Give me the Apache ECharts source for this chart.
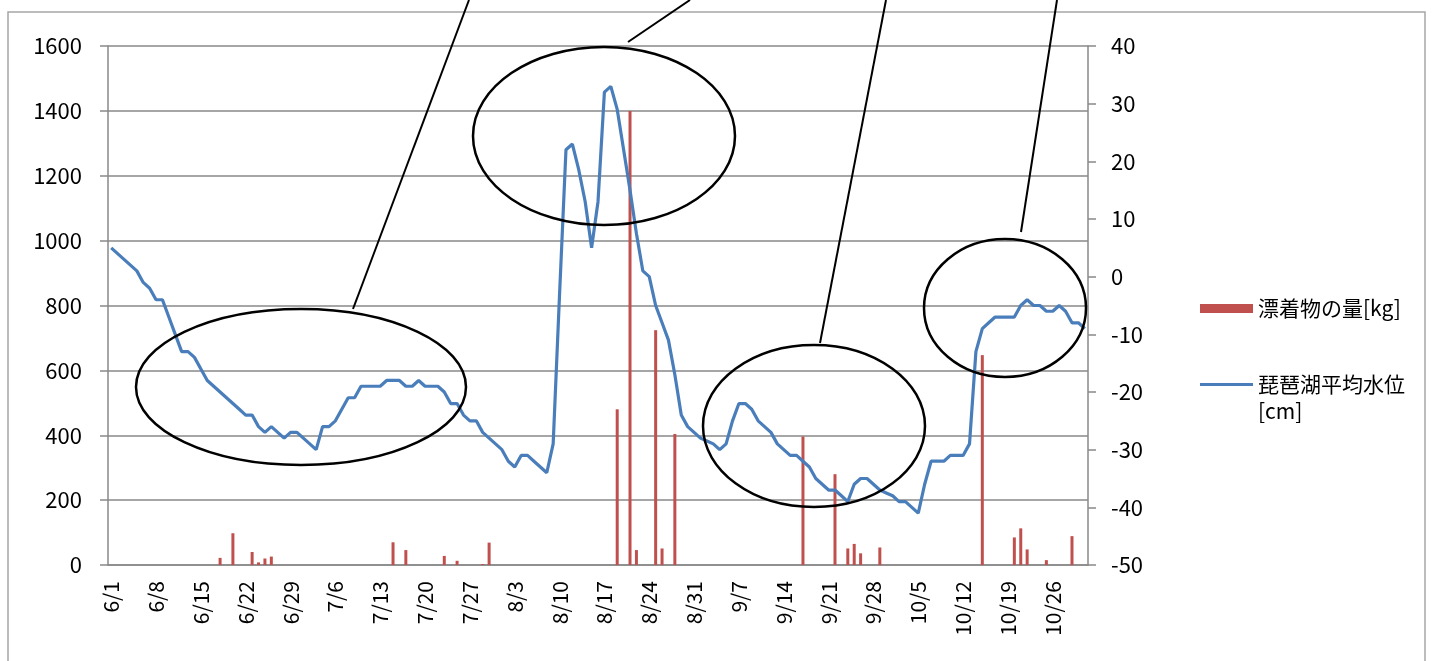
<!DOCTYPE html>
<html>
<head>
<meta charset="utf-8">
<script src="https://cdn.jsdelivr.net/npm/echarts@6/dist/echarts.min.js"></script>
<style>
html,body{margin:0;padding:0;background:#fff;}
#c{width:1434px;height:661px;}
</style>
</head>
<body>
<div id="c"></div>
<script>
// ---- data ----
const monthLengths = [['6', 30], ['7', 31], ['8', 31], ['9', 30], ['10', 31]];
const categories = [];
monthLengths.forEach(function (m) { for (let d = 1; d <= m[1]; d++) categories.push(m[0] + '/' + d); });

// 琵琶湖平均水位 [cm], daily 6/1 .. 10/31
const levelCm = [
  5, 4, 3, 2, 1, -1, -2, -4, -4, -7,
  -10, -13, -13, -14, -16, -18, -19, -20, -21, -22,
  -23, -24, -24, -26, -27, -26, -27, -28, -27, -27,
  -28, -29, -30, -26, -26, -25, -23, -21, -21, -19,
  -19, -19, -19, -18, -18, -18, -19, -19, -18, -19,
  -19, -19, -20, -22, -22, -24, -25, -25, -27, -28,
  -29, -30, -32, -33, -31, -31, -32, -33, -34, -29,
  -3, 22, 23, 18.5, 13, 5, 13, 32, 33, 29,
  22, 15, 7.5, 1, 0, -5, -8, -11, -17, -24,
  -26, -27, -28, -28.5, -29, -30, -29, -25, -22, -22,
  -23, -25, -26, -27, -29, -30, -31, -31, -32, -33,
  -35, -36, -37, -37, -38, -39, -36, -35, -35, -36,
  -37, -37.5, -38, -39, -39, -40, -41, -36, -32, -32,
  -32, -31, -31, -31, -29, -13, -9, -8, -7, -7,
  -7, -7, -5, -4, -5, -5, -6, -6, -5, -6,
  -8, -8, -9
];

// 漂着物の量 [kg]
const debrisDates = ['6/18', '6/20', '6/23', '6/24', '6/25', '6/26', '7/15', '7/17', '7/23', '7/25',
  '7/29', '7/30', '8/19', '8/21', '8/22', '8/25', '8/26', '8/28', '9/17', '9/22',
  '9/24', '9/25', '9/26', '9/29', '10/15', '10/20', '10/21', '10/22', '10/25', '10/29'];
const debrisKg = [22, 98, 40, 8, 20, 26, 70, 46, 28, 13,
  3, 69, 480, 1400, 46, 724, 51, 404, 396, 280,
  51, 65, 36, 54, 647, 85, 113, 48, 15, 89];

const leftAxis = { min: 0, max: 1600, step: 200 };
const rightAxis = { min: -50, max: 40, step: 10 };

const barName = '漂着物の量[kg]';
const lineName = '琵琶湖平均水位[cm]';

const barData = categories.map(function (c) {
  const i = debrisDates.indexOf(c);
  return i >= 0 ? debrisKg[i] : null;
});

// ---- chart ----
const FONT = 'Noto Sans CJK JP';
const GRID = '#898989';
const chart = echarts.init(document.getElementById('c'), null, { renderer: 'canvas' });

const option = {
  animation: false,
  backgroundColor: '#fff',
  textStyle: { fontFamily: FONT },
  grid: { left: 108, right: 346, top: 46, bottom: 96, containLabel: false },
  legend: {
    orient: 'vertical',
    left: 1200,
    top: 295,
    padding: 0,
    itemWidth: 53,
    itemHeight: 9,
    itemGap: 22,
    selectedMode: false,
    textStyle: { fontFamily: FONT, fontSize: 21, color: '#000', lineHeight: 27 },
    formatter: function (n) { return n === lineName ? ' \n琵琶湖平均水位\n[cm]' : n; },
    data: [
      { name: barName, icon: 'rect' },
      { name: lineName, icon: 'path://M0,0H53V3H0Z' }
    ]
  },
  xAxis: {
    type: 'category',
    data: categories,
    boundaryGap: true,
    axisLine: { lineStyle: { color: GRID, width: 1.5 } },
    axisTick: { interval: 6, length: 6, lineStyle: { color: GRID, width: 1.5 } },
    axisLabel: { interval: 6, rotate: 90, margin: 16, fontFamily: FONT, fontSize: 21, color: '#000' },
    splitLine: { show: false }
  },
  yAxis: [
    {
      type: 'value', position: 'left',
      min: leftAxis.min, max: leftAxis.max, interval: leftAxis.step,
      axisLine: { show: true, lineStyle: { color: GRID, width: 1.5 } },
      axisTick: { show: true, length: 8, lineStyle: { color: GRID, width: 1.5 } },
      axisLabel: { margin: 26, fontFamily: FONT, fontSize: 22, color: '#000',
        formatter: function (v) { return String(v); } },
      splitLine: { show: true, lineStyle: { color: GRID, width: 1.5 } }
    },
    {
      type: 'value', position: 'right',
      min: rightAxis.min, max: rightAxis.max, interval: rightAxis.step,
      axisLine: { show: true, lineStyle: { color: GRID, width: 1.5 } },
      axisTick: { show: true, length: 8, lineStyle: { color: GRID, width: 1.5 } },
      axisLabel: { margin: 23, fontFamily: FONT, fontSize: 22, color: '#000',
        formatter: function (v) { return String(v); } },
      splitLine: { show: false }
    }
  ],
  series: [
    {
      name: barName, type: 'bar', yAxisIndex: 0,
      data: barData, barWidth: 3,
      itemStyle: { color: '#c0504d' }
    },
    {
      name: lineName, type: 'line', yAxisIndex: 1,
      data: levelCm, symbol: 'none', showSymbol: false,
      lineStyle: { color: '#4a7ebb', width: 3.2 },
      itemStyle: { color: '#4a7ebb' },
      z: 3
    }
  ],
  graphic: [
    { type: 'rect', z: -10, silent: true, shape: { x: 8, y: 12, width: 1417, height: 700 },
      style: { fill: null, stroke: '#a6a6a6', lineWidth: 1.5 } },
    { type: 'ellipse', z: 100, silent: true, shape: { cx: 301, cy: 387, rx: 165, ry: 78 },
      style: { fill: null, stroke: '#000', lineWidth: 2.5 } },
    { type: 'ellipse', z: 100, silent: true, shape: { cx: 604, cy: 136, rx: 131, ry: 89 },
      style: { fill: null, stroke: '#000', lineWidth: 2.5 } },
    { type: 'ellipse', z: 100, silent: true, shape: { cx: 814, cy: 426, rx: 111, ry: 81 },
      style: { fill: null, stroke: '#000', lineWidth: 2.5 } },
    { type: 'ellipse', z: 100, silent: true, shape: { cx: 1005, cy: 308, rx: 81, ry: 69 },
      style: { fill: null, stroke: '#000', lineWidth: 2.5 } },
    { type: 'line', z: 100, silent: true, shape: { x1: 353, y1: 309, x2: 469, y2: 0 },
      style: { stroke: '#000', lineWidth: 2 } },
    { type: 'line', z: 100, silent: true, shape: { x1: 628, y1: 42, x2: 690, y2: 0 },
      style: { stroke: '#000', lineWidth: 2 } },
    { type: 'line', z: 100, silent: true, shape: { x1: 820, y1: 343, x2: 886, y2: 0 },
      style: { stroke: '#000', lineWidth: 2 } },
    { type: 'line', z: 100, silent: true, shape: { x1: 1021, y1: 232, x2: 1057, y2: 0 },
      style: { stroke: '#000', lineWidth: 2 } }
  ]
};
chart.setOption(option);
</script>
</body>
</html>
